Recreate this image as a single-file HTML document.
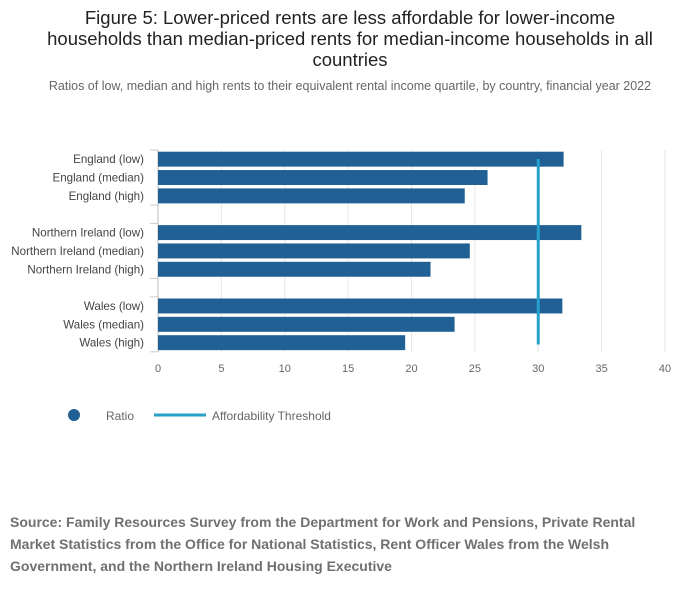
<!DOCTYPE html>
<html><head><meta charset="utf-8"><style>
body{margin:0;width:700px;height:599px;background:#fff;font-family:"Liberation Sans",sans-serif;overflow:hidden;position:relative}
#title{position:absolute;left:0;top:7px;width:700px;text-align:center;font-size:18.5px;line-height:21px;color:#222}
#sub{position:absolute;left:0;top:79px;width:700px;text-align:center;font-size:12.5px;color:#666}
#src{position:absolute;left:10px;top:511px;width:680px;font-size:14px;font-weight:bold;line-height:22px;color:#707070}
</style></head><body>
<div id="title">Figure 5: Lower-priced rents are less affordable for lower-income<br>households than median-priced rents for median-income households in all<br>countries</div>
<div id="sub">Ratios of low, median and high rents to their equivalent rental income quartile, by country, financial year 2022</div>
<svg id="chart" width="700" height="440" style="position:absolute;left:0;top:0"></svg>
<div id="src">Source: Family Resources Survey from the Department for Work and Pensions, Private Rental<br>Market Statistics from the Office for National Statistics, Rent Officer Wales from the Welsh<br>Government, and the Northern Ireland Housing Executive</div>
<script>
const categories=["England (low)","England (median)","England (high)","","Northern Ireland (low)","Northern Ireland (median)","Northern Ireland (high)","","Wales (low)","Wales (median)","Wales (high)"];
const ratios=[32.0,26.0,24.2,null,33.4,24.6,21.5,null,31.9,23.4,19.5];
const xTicks=[0,5,10,15,20,25,30,35,40];
const threshold=30;
const NS="http://www.w3.org/2000/svg";
const svg=document.getElementById('chart');
const x0=158,x1=665,yTop=150,slot=18.35;
const xs=v=>x0+(v-0)/(40-0)*(x1-x0);
const ys=i=>yTop+i*slot;
function mk(t,a,txt){const e=document.createElementNS(NS,t);for(const k in a)e.setAttribute(k,a[k]);if(txt!=null)e.textContent=txt;svg.appendChild(e);return e;}
xTicks.forEach(t=>{
  const g=mk('line',{x1:xs(t),x2:xs(t),y1:yTop,y2:ys(categories.length),stroke:t===0?'#bbb':'#e6e6e6','stroke-width':1});
  
  
  const l=mk('text',{x:xs(t),y:372,'text-anchor':'middle','font-size':11,fill:'#666'},t);
  
  
});
for(let i=0;i<=categories.length;i++){
  if(i===0||i===3||i===4||i===7||i===8||i===11){
    const tk=mk('line',{x1:150,x2:158,y1:ys(i),y2:ys(i),stroke:'#ccc'});
    
    
  }
}
categories.forEach((c,i)=>{
  if(ratios[i]==null)return;
  const b=mk('rect',{x:xs(0),y:ys(i)+1.7,width:xs(ratios[i])-xs(0),height:slot-3.4,fill:'#206095'});
  
  
  const l=mk('text',{x:144,y:ys(i)+slot/2+4,'text-anchor':'end','font-size':11.6,fill:'#444'},c);
  
  
});
const th=mk('line',{x1:xs(threshold),x2:xs(threshold),y1:ys(0)+9,y2:ys(10)+11,stroke:'#27a0cc','stroke-width':3});


const ld=mk('circle',{cx:74,cy:415,r:6,fill:'#206095'});


const lt=mk('text',{x:106,y:420,'font-size':12,fill:'#666'},'Ratio');


const ll=mk('line',{x1:154,x2:206,y1:415,y2:415,stroke:'#27a0cc','stroke-width':3});


const lt2=mk('text',{x:212,y:420,'font-size':12,fill:'#666'},'Affordability Threshold');


</script>
</body></html>
